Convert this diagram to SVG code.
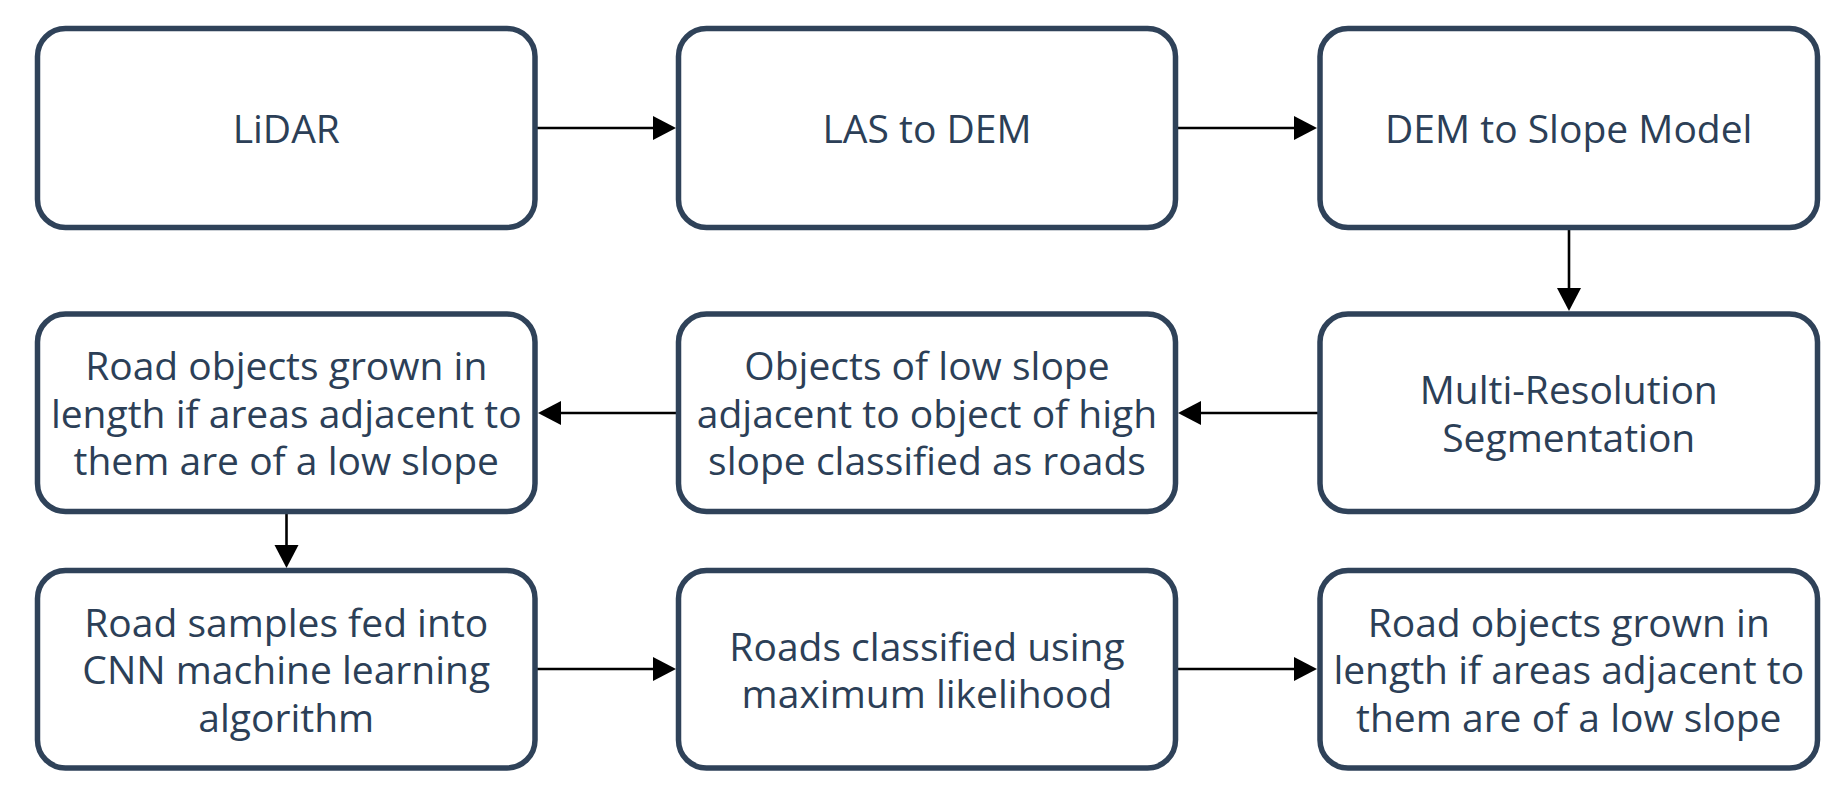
<svg xmlns="http://www.w3.org/2000/svg" width="1833" height="811" viewBox="0 0 1833 811">
<style>
.box{fill:#ffffff;stroke:#2f4259;stroke-width:5.5}
.t{font-family:"Open Sans","Liberation Sans",sans-serif;font-size:39px;fill:#2c3f57;text-anchor:middle}
.c{stroke:#000;stroke-width:2.6;fill:none;marker-end:url(#ah)}
</style>
<defs>
<marker id="ah" markerUnits="userSpaceOnUse" markerWidth="23" markerHeight="25" refX="0" refY="12" orient="auto" viewBox="0 0 23 24">
<path d="M0,0 L23,12 L0,24 z" fill="#000"/>
</marker>
</defs>
<rect width="1833" height="811" fill="#ffffff"/>
<g id="connectors">
<line class="c" x1="537" y1="128" x2="653" y2="128"/>
<line class="c" x1="1177" y1="128" x2="1294" y2="128"/>
<line class="c" x1="1569" y1="229" x2="1569" y2="288"/>
<line class="c" x1="1318" y1="413" x2="1201" y2="413"/>
<line class="c" x1="677" y1="413" x2="561" y2="413"/>
<line class="c" x1="286.5" y1="513" x2="286.5" y2="545"/>
<line class="c" x1="537" y1="669" x2="653" y2="669"/>
<line class="c" x1="1177" y1="669" x2="1294" y2="669"/>
</g>
<g id="n1"><rect class="box" x="37.5" y="28.5" width="497.5" height="199" rx="28"/>
<text class="t" x="286.25" y="143.3">LiDAR</text></g>
<g id="n2"><rect class="box" x="678.5" y="28.5" width="497" height="199" rx="28"/>
<text class="t" x="927" y="143.3">LAS to DEM</text></g>
<g id="n3"><rect class="box" x="1320" y="28.5" width="497.5" height="199" rx="28"/>
<text class="t" x="1568.75" y="143.3">DEM to Slope Model</text></g>
<g id="n4"><rect class="box" x="1320" y="314" width="497.5" height="197.5" rx="28"/>
<text class="t" x="1568.75" y="404">Multi-Resolution</text>
<text class="t" x="1568.75" y="451.7">Segmentation</text></g>
<g id="n5"><rect class="box" x="678.5" y="314" width="497" height="197.5" rx="28"/>
<text class="t" x="927" y="379.5">Objects of low slope</text>
<text class="t" x="927" y="427.5">adjacent to object of high</text>
<text class="t" x="927" y="475">slope classified as roads</text></g>
<g id="n6"><rect class="box" x="37.5" y="314" width="497.5" height="197.5" rx="28"/>
<text class="t" x="286.25" y="379.5">Road objects grown in</text>
<text class="t" x="286.25" y="427.5">length if areas adjacent to</text>
<text class="t" x="286.25" y="475">them are of a low slope</text></g>
<g id="n7"><rect class="box" x="37.5" y="570.5" width="497.5" height="197.5" rx="28"/>
<text class="t" x="286.25" y="636.5">Road samples fed into</text>
<text class="t" x="286.25" y="684">CNN machine learning</text>
<text class="t" x="286.25" y="731.5">algorithm</text></g>
<g id="n8"><rect class="box" x="678.5" y="570.5" width="497" height="197.5" rx="28"/>
<text class="t" x="927" y="660.5">Roads classified using</text>
<text class="t" x="927" y="708">maximum likelihood</text></g>
<g id="n9"><rect class="box" x="1320" y="570.5" width="497.5" height="197.5" rx="28"/>
<text class="t" x="1568.75" y="636.5">Road objects grown in</text>
<text class="t" x="1568.75" y="684">length if areas adjacent to</text>
<text class="t" x="1568.75" y="731.5">them are of a low slope</text></g>
</svg>
